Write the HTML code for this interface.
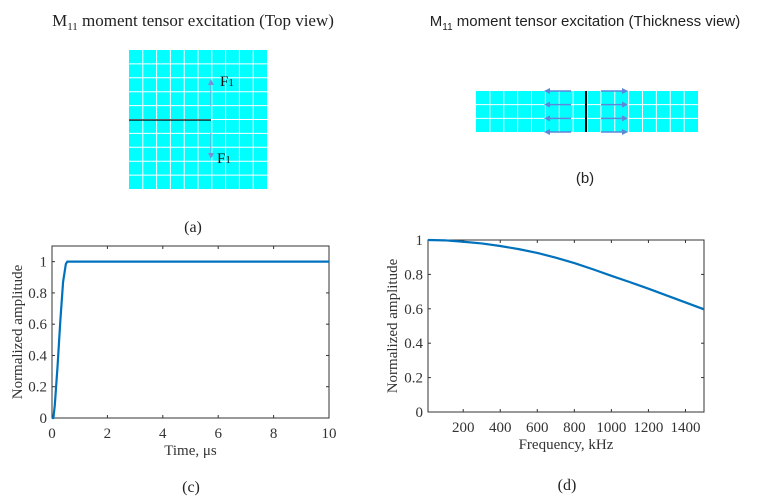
<!DOCTYPE html>
<html><head><meta charset="utf-8">
<style>
body{margin:0;background:#fff;}
svg{display:block;}
.serif{font-family:"Liberation Serif",serif;}
.sans{font-family:"Liberation Sans",sans-serif;}
.tick{font-family:"Liberation Serif",serif;font-size:15px;fill:#333;}
</style></head>
<body>
<svg id="root" width="766" height="504" viewBox="0 0 766 504" xmlns="http://www.w3.org/2000/svg">
<text x="193" y="26" text-anchor="middle" class="serif" font-size="17" fill="#222">M<tspan font-size="11" dy="4">11</tspan><tspan dy="-4"> moment tensor excitation (Top view)</tspan></text>
<text x="585" y="26" text-anchor="middle" class="sans" font-size="15" fill="#222">M<tspan font-size="10" dy="4">11</tspan><tspan dy="-4"> moment tensor excitation (Thickness view)</tspan></text>
<g id="topgrid"></g>
<g id="thickgrid"></g>
<text x="193" y="232" text-anchor="middle" class="serif" font-size="16" fill="#222">(a)</text>
<text x="585" y="183" text-anchor="middle" class="sans" font-size="15" fill="#222">(b)</text>
<g id="chartc"></g>
<g id="chartd"></g>
<text x="191" y="492" text-anchor="middle" class="serif" font-size="16" fill="#222">(c)</text>
<text x="567" y="490" text-anchor="middle" class="serif" font-size="16" fill="#222">(d)</text>
</svg>
<script>
const timeValues=[0,0.05,0.1,0.2,0.3,0.4,0.5,0.55,10];
const timeAmp=[0,0,0.08,0.33,0.62,0.87,0.985,1,1];
const timeTicks=[0,2,4,6,8,10];
const freqValues=[10,100,200,300,400,500,600,700,800,900,1000,1100,1200,1300,1400,1500];
const freqAmp=[1,0.998,0.99,0.98,0.965,0.947,0.925,0.897,0.866,0.83,0.792,0.755,0.717,0.677,0.637,0.597];
const freqTicks=[200,400,600,800,1000,1200,1400];
const ampTicks=[0,0.2,0.4,0.6,0.8,1];
const NS="http://www.w3.org/2000/svg";
function el(tag,attrs,parent,txt){const e=document.createElementNS(NS,tag);for(const k in attrs)e.setAttribute(k,attrs[k]);if(txt!==undefined)e.textContent=txt;parent.appendChild(e);return e;}

(function(){
const g=document.getElementById('topgrid');
const x0=129,y0=50,w=138,h=139;
let r=el('rect',{x:x0,y:y0,width:w,height:h,fill:'#00ffff'},g);

for(let i=1;i<10;i++){
 el('line',{x1:x0+i*w/10,y1:y0,x2:x0+i*w/10,y2:y0+h,stroke:'#ffffff','stroke-width':1},g);
 el('line',{x1:x0,y1:y0+i*h/10,x2:x0+w,y2:y0+i*h/10,stroke:'#ffffff','stroke-width':1},g);
}
let c=el('line',{x1:x0,y1:120,x2:211,y2:120,stroke:'#000','stroke-width':1.3},g);

el('line',{x1:211,y1:82,x2:211,y2:106,stroke:'#7b8fd6','stroke-width':1},g);
el('path',{d:'M208,85 L211,79 L214,85 Z',fill:'#7b8fd6'},g);
el('line',{x1:211,y1:133,x2:211,y2:156,stroke:'#7b8fd6','stroke-width':1},g);
el('path',{d:'M208,153 L211,159 L214,153 Z',fill:'#7b8fd6'},g);
let t1=el('text',{x:220,y:86,'font-size':15,fill:'#111',class:'serif'},g,'F');
el('tspan',{'font-size':11},t1,'1');

let t2=el('text',{x:217,y:163,'font-size':15,fill:'#111',class:'serif'},g,'F');
el('tspan',{'font-size':11},t2,'1');

})();

(function(){
const g=document.getElementById('thickgrid');
const x0=476,y0=91,w=222,h=41;
let r=el('rect',{x:x0,y:y0,width:w,height:h,fill:'#00ffff'},g);

for(let i=1;i<16;i++)el('line',{x1:x0+i*w/16,y1:y0,x2:x0+i*w/16,y2:y0+h,stroke:'#ffffff','stroke-width':1},g);
for(let i=1;i<3;i++)el('line',{x1:x0,y1:y0+i*h/3,x2:x0+w,y2:y0+i*h/3,stroke:'#ffffff','stroke-width':1},g);
let c=el('line',{x1:586,y1:y0,x2:586,y2:y0+h,stroke:'#000','stroke-width':2},g);

for(let j=0;j<4;j++){
 const y=y0+j*h/3;
 el('line',{x1:546,y1:y,x2:571,y2:y,stroke:'#5f86d8','stroke-width':1.5},g);
 el('path',{d:`M550,${y-3} L544,${y} L550,${y+3} Z`,fill:'#5f86d8'},g);
 el('line',{x1:601,y1:y,x2:626,y2:y,stroke:'#5f86d8','stroke-width':1.5},g);
 el('path',{d:`M622,${y-3} L628,${y} L622,${y+3} Z`,fill:'#5f86d8'},g);
}
})();

function chart(gid,L,R,T,B,xmin,xmax,ymax,xs,ys,xticks,xlabel,xlabY,tickY,ylabX,prefix){
 const g=document.getElementById(gid);
 const sx=v=>L+(v-xmin)/(xmax-xmin)*(R-L);
 const sy=v=>B-v/ymax*(B-T);
 let fr=el('rect',{x:L,y:T,width:R-L,height:B-T,fill:'#fff',stroke:'#333','stroke-width':1},g);
 
 xticks.forEach(v=>{
  el('line',{x1:sx(v),y1:B,x2:sx(v),y2:B-3,stroke:'#333'},g);
  el('line',{x1:sx(v),y1:T,x2:sx(v),y2:T+3,stroke:'#333'},g);
  let t=el('text',{x:sx(v),y:tickY,'text-anchor':'middle',class:'tick'},g,String(v));
  
 });
 ampTicks.forEach(v=>{
  el('line',{x1:L,y1:sy(v),x2:L+3,y2:sy(v),stroke:'#333'},g);
  el('line',{x1:R,y1:sy(v),x2:R-3,y2:sy(v),stroke:'#333'},g);
  let t=el('text',{x:L-5,y:sy(v)+5,'text-anchor':'end',class:'tick'},g,String(v));
  
 });
 let d=xs.map((x,i)=>(i?'L':'M')+sx(x).toFixed(2)+','+sy(ys[i]).toFixed(2)).join(' ');
 let p=el('path',{d:d,fill:'none',stroke:'#0072bd','stroke-width':2.2,'stroke-linejoin':'round'},g);
 
 let xl=el('text',{x:(L+R)/2,y:xlabY,'text-anchor':'middle',class:'serif','font-size':15,fill:'#333'},g,xlabel);
 
 const cy=(T+B)/2;
 let yl=el('text',{x:ylabX,y:cy,'text-anchor':'middle',class:'serif','font-size':15,fill:'#333',transform:`rotate(-90 ${ylabX} ${cy})`},g,'Normalized amplitude');
 
}
chart('chartc',52,329,246,418,0,10,1.1,timeValues,timeAmp,timeTicks,'Time, μs',455,438,22,'time');
chart('chartd',428,704,240,412,10,1500,1,freqValues,freqAmp,freqTicks,'Frequency, kHz',449,432,397,'freq');
</script>
</body></html>
